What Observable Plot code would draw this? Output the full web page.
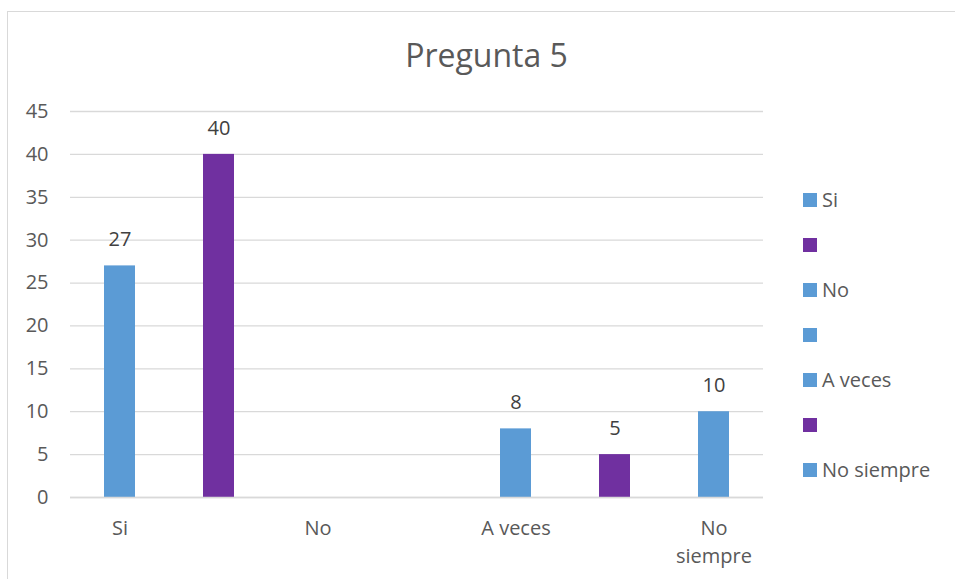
<!DOCTYPE html>
<html>
<head>
<meta charset="utf-8">
<script src="https://cdn.jsdelivr.net/npm/d3@7"></script>
<script src="https://cdn.jsdelivr.net/npm/@observablehq/plot@0.6"></script>
<style>
  html, body { margin: 0; padding: 0; background: #fff; }
  #wrap { position: relative; width: 955px; height: 579px; overflow: hidden; font-family: "Open Sans", sans-serif; color: #595959; }
  #frame { position: absolute; left: 7px; top: 11px; width: 960px; height: 580px; border-left: 1.5px solid #d9d9d9; border-top: 1.5px solid #d9d9d9; box-sizing: border-box; }
  #title { position: absolute; left: 0; width: 973px; top: 36px; text-align: center; font-size: 32px; line-height: 38px; }
  #legend { position: absolute; left: 803px; top: 0; }
  .item { position: absolute; white-space: nowrap; font-size: 20px; line-height: 22px; }
  .sw { display: inline-block; width: 14px; height: 14px; margin-right: 5px; vertical-align: 0px; }
  #chart { position: absolute; left: 0; top: 0; }
</style>
</head>
<body>
<div id="wrap">
  <div id="frame"></div>
  <div id="chart"></div>
  <div id="title">Pregunta 5</div>
  <div id="legend"></div>
</div>
<script>
const categories = ["Si", "", "No", "", "A veces", "", "No siempre"];
const axisLabels = ["Si", "", "No", "", "A veces", "", "No\nsiempre"];
const values = [27, 40, 0, 0, 8, 5, 10];
const colors = ["#5B9BD5", "#7030A0", "#5B9BD5", "#5B9BD5", "#5B9BD5", "#7030A0", "#5B9BD5"];
const yTicks = [0, 5, 10, 15, 20, 25, 30, 35, 40, 45];

const data = categories.map((c, i) => ({i, name: c, value: values[i], color: colors[i]}));

const chart = Plot.plot({
  width: 955,
  height: 579,
  marginLeft: 70,
  marginRight: 192,
  marginTop: 111,
  marginBottom: 82,
  style: {background: "transparent", fontFamily: "Open Sans, sans-serif", color: "#595959", fontSize: "20px"},
  x: {type: "band", domain: d3.range(categories.length), paddingInner: 0.69, paddingOuter: 0.345, align: 0.5},
  y: {domain: [0, 45]},
  marks: [
    Plot.gridY(yTicks, {stroke: "#d9d9d9", strokeOpacity: 1, strokeWidth: 1.3}),
    Plot.barY(data.filter(d => d.value > 0), {x: "i", y: "value", fill: "color"}),
    Plot.ruleY([0], {stroke: "#d9d9d9", strokeWidth: 1.3}),
    Plot.text(data.filter(d => d.value > 0), {x: "i", y: "value", text: d => String(d.value), dy: -26, fill: "#404040", fontSize: 20}),
    Plot.axisY(yTicks, {tickSize: 0, tickPadding: 22, fontSize: 20, fill: "#595959", label: null}),
    Plot.axisX({tickSize: 0, tickPadding: 18, tickFormat: i => axisLabels[i], fontSize: 20, fill: "#595959", lineHeight: 1.4, label: null, textAnchor: "middle", lineAnchor: "top"})
  ]
});
document.getElementById("chart").appendChild(chart);

const legend = document.getElementById("legend");
categories.forEach((c, i) => {
  const el = document.createElement("div");
  el.className = "item";
  el.style.top = (189 + i * 45) + "px";
  el.innerHTML = `<span class="sw" style="background:${colors[i]}"></span>${c}`;
  legend.appendChild(el);
});
</script>
</body>
</html>
